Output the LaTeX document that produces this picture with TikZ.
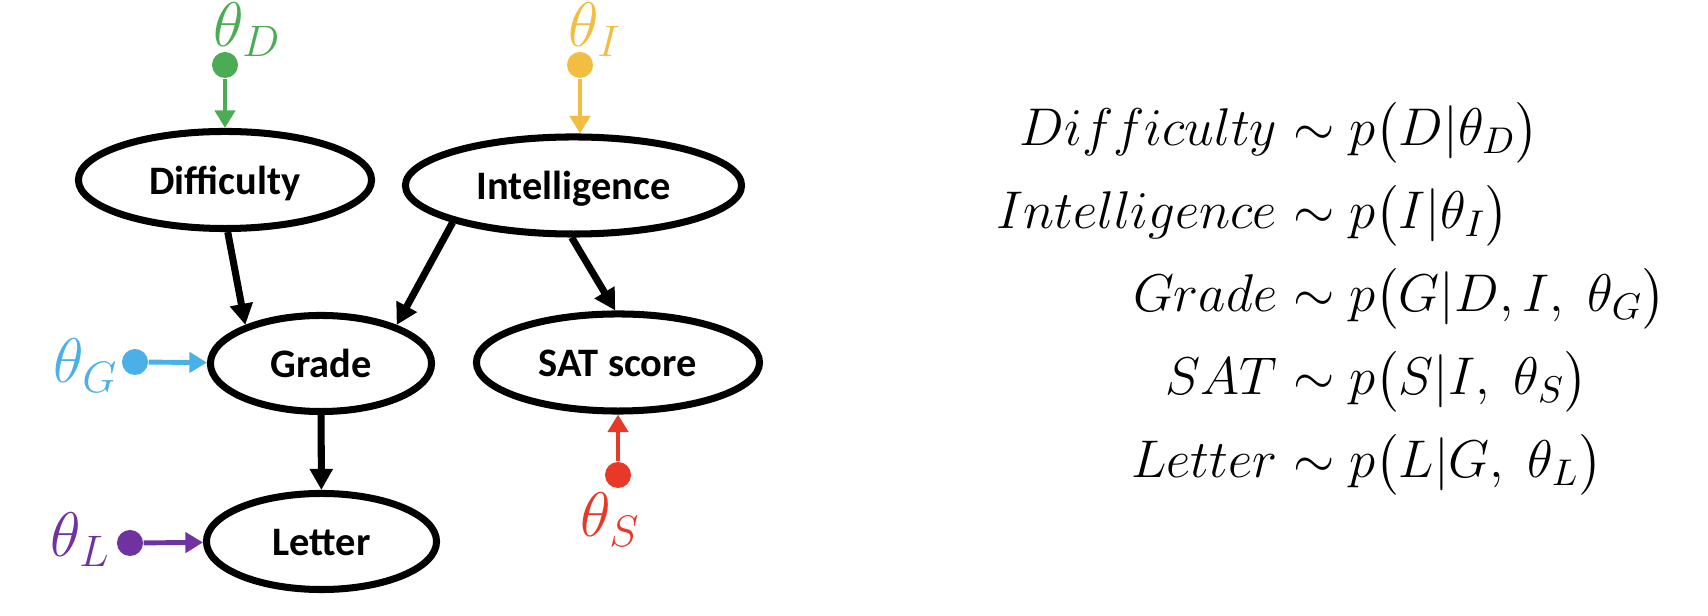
\RequirePackage{fix-cm}
\documentclass[tikz,border=0pt]{standalone}
\usepackage{amsmath}
\usepackage{exscale}
\usepackage{fontspec}
\newfontfamily\calibri{Carlito}
\usetikzlibrary{shapes.geometric,arrows.meta}

\definecolor{thgreen}{RGB}{76,172,84}
\definecolor{thyellow}{RGB}{242,190,66}
\definecolor{thblue}{RGB}{76,176,232}
\definecolor{thpurple}{RGB}{112,50,160}
\definecolor{thred}{RGB}{232,56,40}

\begin{document}
\begin{tikzpicture}[x=0.01cm, y=-0.01cm,
  var/.style={ellipse, draw, line width=2pt, inner sep=0pt, minimum height=0.97cm,
    font=\calibri\bfseries\fontsize{11.5}{13}\selectfont, text height=8pt, text depth=0pt},
  dep/.style={-{Triangle[length=6pt,width=6.3pt]}, line width=2pt},
  prm/.style={-{Triangle[length=5pt,width=5.7pt]}, line width=1.4pt},
  dot/.style={circle, inner sep=0pt, minimum size=0.26cm},
  plab/.style={font=\fontsize{17.9}{20}\selectfont, inner sep=0pt, anchor=base west},
  eq/.style={font=\fontsize{15.1}{18}\selectfont, inner sep=0pt}]
  \useasboundingbox (0,0) rectangle (1708,616);

  \node[var, minimum width=2.93cm] (diff) at (225,180) {Difficulty};
  \node[var, minimum width=3.36cm] (intel) at (573.5,185.5) {Intelligence};
  \node[var, minimum width=2.21cm, minimum height=0.96cm] (grade) at (321,363.5) {Grade};
  \node[var, minimum width=2.83cm] (sat) at (618,362.5) {SAT score};
  \node[var, minimum width=2.30cm, minimum height=0.96cm] (letter) at (321.5,541.5) {Letter};

  \draw[dep] (diff.-87) -- (grade.153);
  \draw[dep] (intel.-163) -- (grade.27);
  \draw[dep] (intel.-92) -- (sat.93);
  \draw[dep] (grade) -- (letter);

  % parameters
  \node[dot, fill=thgreen] (dD) at (225,65) {};
  \node[dot, fill=thyellow] (dI) at (580,65) {};
  \node[dot, fill=thblue] (dG) at (135,362) {};
  \node[dot, fill=thred] (dS) at (618,475) {};
  \node[dot, fill=thpurple] (dL) at (130,543) {};
  \draw[prm, thgreen] (dD) -- (diff);
  \draw[prm, thyellow] (dI) -- (dI |- intel.north);
  \draw[prm, thblue] (dG) -- (grade);
  \draw[prm, thred] (dS) -- (sat);
  \draw[prm, thpurple] (dL) -- (letter);

  \node[plab, text=thgreen] (tD) at (213,47) {$\theta_D$};
  \node[plab, text=thyellow] (tI) at (568,47) {$\theta_I$};
  \node[plab, text=thblue] (tG) at (53,383) {$\theta_G$};
  \node[plab, text=thpurple] (tL) at (50,557) {$\theta_L$};
  \node[plab, text=thred] (tS) at (580,537) {$\theta_S$};

  % equations
  \foreach \lhs/\rhs [count=\i] in {
      Difficulty/{p\bigl(D|\theta_D\bigr)},
      Intelligence/{p\bigl(I|\theta_I\bigr)},
      Grade/{p\bigl(G|D, I,\;\theta_G\bigr)},
      SAT/{p\bigl(S|I,\;\theta_S\bigr)},
      Letter/{p\bigl(L|G,\;\theta_L\bigr)}} {
    \pgfmathsetmacro{\y}{146+83*(\i-1)}
    \node[eq, anchor=base east] (l\i) at (1278,\y) {$\lhs$};
    \node[eq, anchor=base west] (r\i) at (1278,\y) {${}\sim \rhs$};
  }
\end{tikzpicture}
\end{document}
